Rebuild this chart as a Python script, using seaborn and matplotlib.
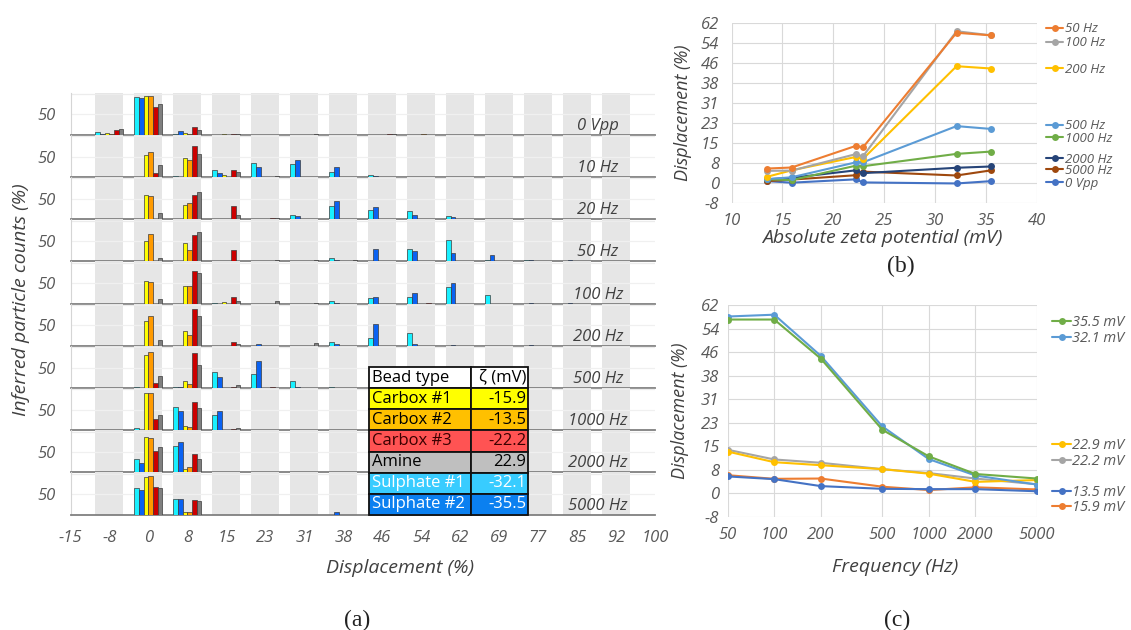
import numpy as np
import pandas as pd
import matplotlib
matplotlib.use("Agg")
import matplotlib.pyplot as plt
import seaborn as sns
from matplotlib.lines import Line2D
from matplotlib.legend import Legend

# ---------------- data ----------------
bin_labels = ['-15', '-8', '0', '8', '15', '23', '31', '38', '46', '54', '62', '69', '77', '85', '92', '100']
inner_bins = bin_labels[1:-1]
beads = ['Sulphate #1', 'Sulphate #2', 'Carbox #1', 'Carbox #2', 'Carbox #3', 'Amine']
bead_colors = ['#19F0FF', '#0A62F2', '#FFFF00', '#FF9A00', '#CC0000', '#7F7F7F']
row_labels = ['0 Vpp', '10 Hz', '20 Hz', '50 Hz', '100 Hz', '200 Hz', '500 Hz', '1000 Hz', '2000 Hz', '5000 Hz']

# counts per row: one list per bead (order as `beads`), over bins -8 .. 92
counts_0vpp = [
    [6.5, 92.6, 1.5, 0, 0, 0, 0, 0, 0, 0, 0, 0, 0, 0],
    [2, 91, 8, 0, 0, 0, 0, 0, 0, 0, 0, 0, 0, 0],
    [3, 94, 4, 0.5, 0, 0, 0, 0, 0, 0, 0, 0, 0, 0],
    [1.5, 94, 2.5, 0, 0, 0, 0, 0, 0.5, 0, 0, 0, 0, 0],
    [12, 68, 18, 0.5, 0, 0, 0, 0.5, 0, 0, 0, 0, 0, 0],
    [15, 74.6, 12, 0.5, 0, 0.5, 0, 0.5, 0, 0, 0, 0, 0, 0],
]
counts_10hz = [
    [0, 0, 2, 17, 34, 32, 12, 5.6, 0.5, 0, 0, 0, 0, 0],
    [0, 0, 0, 10, 25, 41, 24, 1, 0, 0, 0, 0, 0, 0],
    [0, 53, 46, 5, 0.5, 0, 0, 0, 0, 0, 0, 0, 0, 0],
    [0, 60, 41, 0, 0, 0, 0, 0, 0, 0, 0, 0, 0, 0],
    [0, 10.5, 76, 17, 0, 0.5, 0, 0, 0, 0.5, 0, 0, 0, 0],
    [0, 30, 56, 11, 2, 0.5, 0, 0.5, 0.5, 0, 0, 0, 0, 0],
]
counts_20hz = [
    [0, 0, 0, 1, 1, 11, 31, 23, 21, 8, 0, 0, 0, 0],
    [0, 0, 1, 0, 0, 8, 44, 29, 10, 5, 0, 0, 0, 0],
    [0, 60, 34, 1, 0, 0, 0, 0, 0, 0, 0, 0, 0, 0],
    [0, 57, 40, 0, 0, 0, 0, 0, 0, 0, 0, 0, 0, 0],
    [0, 0, 59, 33, 1.5, 1, 1, 0, 0, 0, 0, 0, 0, 0],
    [0, 16, 67, 9, 2, 0, 0, 0, 0.5, 0.5, 0, 0, 0, 0],
]
counts_50hz = [
    [0, 0, 0, 0, 0, 0, 8, 1, 30, 52, 4, 2, 0, 0],
    [0, 0, 0, 0, 0, 0, 2, 29, 25, 21, 15, 4, 2, 0],
    [0, 49, 45, 0, 0, 1, 0, 0, 0, 0, 0, 0, 0, 0],
    [0, 67, 28, 0, 0, 0, 0, 0, 0, 0, 0, 0, 0, 0],
    [0, 0, 65, 27, 0, 0, 0, 0, 1.5, 0, 0, 0, 0, 0],
    [0, 8, 73, 0, 3, 2, 2, 0, 0, 0.5, 0, 0, 0, 0],
]
counts_100hz = [
    [0, 0, 0, 1, 0, 0, 5, 13, 17, 41, 22, 0, 0, 0],
    [0, 0, 0, 0, 0, 0, 1, 17, 26, 50, 0, 2, 1, 0],
    [0, 55, 42, 3, 0, 0, 0, 0, 0, 0, 0, 0, 0, 0],
    [0, 53, 44, 0, 0, 0, 0, 0, 0, 0, 0, 0, 0, 0],
    [0, 0, 79, 15, 0, 0, 0, 0, 2, 0, 0, 0, 0, 0],
    [0, 10, 75, 6, 5, 1, 0, 0, 0, 0, 0, 0, 0, 0],
]
counts_200hz = [
    [0, 0, 0, 0, 0, 0, 10, 19, 31, 0, 0, 0, 0, 0],
    [0, 0, 0, 0, 3, 0, 5, 52, 4, 2, 0, 1, 0, 0],
    [0, 61, 35, 0, 0, 0, 0, 0, 0, 0, 0, 0, 0, 0],
    [0, 73, 27, 0, 0, 0, 0, 0, 0, 0, 0, 0, 0, 0],
    [0, 0, 89, 8, 0, 0, 0, 0, 0, 0, 0, 0, 0, 0],
    [0, 15, 74, 4, 0, 6, 0, 0, 0, 0, 0, 0, 0, 0],
]
counts_500hz = [
    [0, 1, 2, 40, 35, 18, 3, 0, 0, 0, 0, 0, 0, 0],
    [0, 0, 2, 27, 65, 3, 0, 0, 0, 0, 0, 0, 0, 0],
    [0, 80, 16, 0, 0, 0, 0, 0, 0, 0, 0, 0, 0, 0],
    [0, 88, 10, 0, 0, 0, 0, 0, 0, 0, 0, 0, 0, 0],
    [0, 11, 85, 2, 1, 0, 0, 0, 0, 0, 0, 0, 0, 0],
    [0, 30, 56, 6, 0, 0, 0, 0, 0, 0, 0, 0, 0, 0],
]
counts_1000hz = [
    [0, 5, 56, 36, 0, 0, 0, 0, 0, 0, 0, 0, 0, 0],
    [0, 0, 48, 48, 1, 0, 0, 0, 0, 0, 0, 0, 0, 0],
    [0, 90, 9, 0, 0, 0, 0, 0, 0, 0, 0, 0, 0, 0],
    [0, 91, 6.5, 0, 0, 0, 0, 0, 0, 0, 0, 0, 0, 0],
    [0, 27, 69, 2, 0, 0, 0, 0, 0, 0, 0, 0, 0, 0],
    [0, 36, 53, 5, 0, 0, 0, 0, 0, 0, 0, 0, 0, 0],
]
counts_2000hz = [
    [0, 33, 65, 0, 0, 0, 0, 0, 0, 0, 0, 0, 0, 0],
    [0, 22, 75, 1, 0, 0, 0, 0, 0, 0, 0, 0, 0, 0],
    [0, 86, 8, 0, 0, 0, 0, 0, 0, 0, 0, 0, 0, 0],
    [0, 85, 13, 0, 0, 0, 0, 0, 0, 0, 0, 0, 0, 0],
    [0, 53, 44, 0, 0, 0, 0, 0, 0, 0, 0, 0, 0, 0],
    [0, 62, 33, 0, 0, 0, 0, 0, 0, 0, 0, 0, 0, 0],
]
counts_5000hz = [
    [0, 65, 38, 0, 0, 0, 0, 0, 0, 0, 0, 0, 0, 0],
    [0, 61, 38, 0, 0, 0, 5, 0, 0, 0, 0, 0, 0, 0],
    [0, 92, 7, 0, 0, 0, 0, 0, 0, 0, 0, 0, 0, 0],
    [0, 94, 7, 0, 0, 0, 0, 0, 0, 0, 0, 0, 0, 0],
    [0, 68, 35, 0, 0, 0, 0, 0, 0, 0, 0, 0, 0, 0],
    [0, 64, 34, 0, 0, 0, 0, 0, 0, 0, 0, 0, 0, 0],
]
rows_data = [counts_0vpp, counts_10hz, counts_20hz, counts_50hz, counts_100hz,
             counts_200hz, counts_500hz, counts_1000hz, counts_2000hz, counts_5000hz]

# legend table
table_beads = ['Carbox #1', 'Carbox #2', 'Carbox #3', 'Amine', 'Sulphate #1', 'Sulphate #2']
table_zeta = [-15.9, -13.5, -22.2, 22.9, -32.1, -35.5]
table_colors = ['#FFFF00', '#FFC000', '#FF5353', '#BFBFBF', '#38CCFF', '#0B80F0']
table_text_colors = ['#000000', '#000000', '#3a0000', '#000000', '#FFFFFF', '#FFFFFF']

# panel (b): displacement vs |zeta|
abs_zeta = [13.5, 15.9, 22.2, 22.9, 32.1, 35.5]
freq_labels = ['50 Hz', '100 Hz', '200 Hz', '500 Hz', '1000 Hz', '2000 Hz', '5000 Hz', '0 Vpp']
disp_50hz = [5.4, 5.8, 14.2, 13.6, 58.2, 57.2]
disp_100hz = [4.5, 4.6, 11.0, 10.1, 58.8, 57.2]
disp_200hz = [2.2, 4.7, 9.9, 9.1, 45.2, 44.3]
disp_500hz = [1.3, 2.0, 7.8, 7.8, 21.9, 20.8]
disp_1000hz = [1.2, 0.9, 6.5, 6.3, 11.1, 12.0]
disp_2000hz = [1.2, 1.8, 4.7, 3.6, 5.7, 6.2]
disp_5000hz = [0.5, 1.1, 2.8, 4.2, 2.7, 4.7]
disp_0vpp = [0.5, -0.1, 1.2, 0.0, -0.4, 0.5]
freq_colors = ['#ED7D31', '#A5A5A5', '#FFC000', '#5B9BD5', '#70AD47', '#264478', '#9E480E', '#4472C4']

# panel (c): displacement vs frequency
frequencies = [50, 100, 200, 500, 1000, 2000, 5000]
zeta_labels = ['35.5 mV', '32.1 mV', '22.9 mV', '22.2 mV', '13.5 mV', '15.9 mV']
zeta_colors = ['#70AD47', '#5B9BD5', '#FFC000', '#A5A5A5', '#4472C4', '#ED7D31']

# ---------------- style ----------------
sns.set_theme(style="white")
plt.rcParams['font.family'] = ['Open Sans', 'DejaVu Sans']
plt.rcParams['font.style'] = 'italic'

W, H = 1131, 630
fig = plt.figure(figsize=(W / 100, H / 100), dpi=100)


def fx(x):
    return x / W


def fy(y):
    return 1 - y / H


TICK_C = '#595959'
LAB_C = '#404040'

# ---------------- panel (a) ----------------
recs = []
for lab, arr in zip(row_labels, rows_data):
    for b, vals in zip(beads, arr):
        for bl, v in zip(inner_bins, vals):
            if v > 0:
                recs.append((lab, bl, b, v))
df_a = pd.DataFrame(recs, columns=['row', 'bin', 'bead', 'value'])
pal = dict(zip(beads, bead_colors))

a_left, a_right = 70.5, 655
a_top, a_bot = 92.5, 514.5
row_h = (a_bot - a_top) / len(row_labels)

for i, lab in enumerate(row_labels):
    ax = fig.add_axes([fx(a_left), fy(a_top + (i + 1) * row_h), fx(a_right - a_left), row_h / H])
    sub = df_a[df_a['row'] == lab]
    sns.barplot(data=sub, x='bin', y='value', hue='bead', order=bin_labels, hue_order=beads,
                palette=pal, width=0.72, gap=0, saturation=1, errorbar=None, legend=False,
                edgecolor='#3c3c3c', linewidth=0.5, ax=ax, zorder=3)
    for k in range(1, len(bin_labels) - 1):
        ax.axvspan(k - 0.36, k + 0.36, color='#e6e6e6', lw=0, zorder=0)
    ax.set_xlim(0, len(bin_labels) - 1)
    ax.set_ylim(0, 103.5)
    ax.set_yticks([50])
    ax.set_yticklabels(['50'])
    ax.axhline(50, color='#f0f0f0', lw=0.9, zorder=1)
    ax.axhline(100, color='#ececec', lw=0.9, zorder=1)
    ax.set_xticks(range(len(bin_labels)))
    ax.set_xticklabels(bin_labels)
    ax.tick_params(axis='both', length=0, labelsize=12, labelcolor=TICK_C)
    ax.tick_params(axis='y', pad=11)
    ax.tick_params(axis='x', pad=11)
    if i < len(row_labels) - 1:
        ax.tick_params(labelbottom=False)
    ax.set_xlabel('')
    ax.set_ylabel('')
    for s in ['top', 'right']:
        ax.spines[s].set_visible(False)
    ax.spines['left'].set_color('#d5d5d5')
    ax.spines['left'].set_linewidth(0.8)
    ax.spines['bottom'].set_color('#808080')
    ax.spines['bottom'].set_linewidth(1.3)
    ax.patch.set_alpha(0)
    ax.text(13.54, 22, lab, ha='center', va='center', fontsize=12, color=LAB_C, zorder=5)

fig.text(fx(21), fy(300), 'Inferred particle counts (%)', rotation=90, ha='center', va='center',
         fontsize=14, color=LAB_C)
fig.text(fx(400), fy(568), 'Displacement (%)', ha='center', va='center', fontsize=14, color=LAB_C)
fig.text(fx(357), fy(620), '(a)', ha='center', va='center', fontsize=17, style='normal',
         family='Liberation Serif', color='#222222')

# legend table
tax = fig.add_axes([fx(369), fy(515), fx(528 - 369), (515 - 367) / H], zorder=10)
tax.axis('off')
cell_text = [['Bead type', 'ζ (mV)']] + [[b, f'{z:.1f}'] for b, z in zip(table_beads, table_zeta)]
cell_cols = [['white', 'white']] + [[c, c] for c in table_colors]
tbl = tax.table(cellText=cell_text, cellColours=cell_cols, colWidths=[0.64, 0.36],
                bbox=[0, 0, 1, 1])
tbl.auto_set_font_size(False)
for (r, c), cell in tbl.get_celld().items():
    cell.set_edgecolor('#111111')
    cell.set_linewidth(1.3)
    cell.PAD = 0.03
    t = cell.get_text()
    t.set_fontsize(12)
    t.set_fontstyle('normal')
    t.set_color('#000000' if r == 0 else table_text_colors[r - 1])
    t.set_ha('left' if c == 0 else 'right')
    cell._loc = 'left' if c == 0 else 'right'


def add_entry(ax, label, color, yy, x0, fs, hl):
    h = Line2D([], [], color=color, marker='o', markersize=5, markeredgewidth=0, lw=1.5)
    lg = Legend(ax, [h], [label], loc='center left', bbox_to_anchor=(x0, yy), frameon=False,
                handlelength=hl, handletextpad=0.12, borderpad=0, borderaxespad=0,
                fontsize=fs, labelcolor=TICK_C)
    ax.add_artist(lg)


# ---------------- panel (b) ----------------
b_series = [disp_50hz, disp_100hz, disp_200hz, disp_500hz, disp_1000hz, disp_2000hz, disp_5000hz, disp_0vpp]
df_b = pd.DataFrame([(f, z, v) for f, ser in zip(freq_labels, b_series) for z, v in zip(abs_zeta, ser)],
                    columns=['freq', 'zeta', 'disp'])
axb = fig.add_axes([fx(731.5), fy(203), fx(1037 - 731.5), (203 - 23) / H])
sns.lineplot(data=df_b, x='zeta', y='disp', hue='freq', hue_order=freq_labels[::-1],
             palette=dict(zip(freq_labels, freq_colors)), marker='o', markersize=5,
             markeredgewidth=0, linewidth=1.5, legend=False, ax=axb)
yt = np.linspace(-8, 62, 10)
ylabs = ['-8', '0', '8', '15', '23', '31', '38', '46', '54', '62']
axb.set_xlim(10, 40)
axb.set_ylim(-8, 62)
axb.set_xticks([10, 15, 20, 25, 30, 35, 40])
axb.set_yticks(yt)
axb.set_yticklabels(ylabs)
axb.grid(True, color='#d9d9d9', lw=0.8)
axb.set_axisbelow(True)
for s in axb.spines.values():
    s.set_visible(False)
axb.tick_params(axis='both', length=0, labelsize=12, labelcolor=TICK_C)
axb.tick_params(axis='y', pad=9)
axb.tick_params(axis='x', pad=7)
axb.set_xlabel('')
axb.set_ylabel('')
b_leg_y = [0.967, 0.889, 0.744, 0.428, 0.361, 0.244, 0.183, 0.111]
for lab, col, yy in zip(freq_labels, freq_colors, b_leg_y):
    add_entry(axb, lab, col, yy, 1.03, 9.5, 1.3)
fig.text(fx(683), fy(113), 'Displacement (%)', rotation=90, ha='center', va='center',
         fontsize=13, color=LAB_C)
fig.text(fx(882), fy(238), 'Absolute zeta potential (mV)', ha='center', va='center',
         fontsize=14, color=LAB_C)
fig.text(fx(901), fy(266), '(b)', ha='center', va='center', fontsize=17, style='normal',
         family='Liberation Serif', color='#222222')

# ---------------- panel (c) ----------------
zeta_for_label = {'35.5 mV': 35.5, '32.1 mV': 32.1, '22.9 mV': 22.9, '22.2 mV': 22.2,
                  '13.5 mV': 13.5, '15.9 mV': 15.9}
recs_c = []
for zl in zeta_labels:
    zi = abs_zeta.index(zeta_for_label[zl])
    for f, ser in zip(frequencies, b_series[:7]):
        recs_c.append((zl, f, ser[zi]))
df_c = pd.DataFrame(recs_c, columns=['zeta', 'freq', 'disp'])
axc = fig.add_axes([fx(727.7), fy(517), fx(1037 - 727.7), (517 - 305) / H])
sns.lineplot(data=df_c, x='freq', y='disp', hue='zeta', hue_order=zeta_labels[::-1],
             palette=dict(zip(zeta_labels, zeta_colors)), marker='o', markersize=5,
             markeredgewidth=0, linewidth=1.5, legend=False, ax=axc)
axc.set_xscale('log')
axc.set_xlim(50, 5000)
axc.set_ylim(-8, 62)
axc.set_xticks(frequencies)
axc.set_xticklabels([str(f) for f in frequencies])
axc.xaxis.set_minor_locator(matplotlib.ticker.NullLocator())
axc.set_yticks(yt)
axc.set_yticklabels(ylabs)
axc.grid(True, color='#d9d9d9', lw=0.8)
axc.set_axisbelow(True)
for s in axc.spines.values():
    s.set_visible(False)
axc.tick_params(axis='both', length=0, labelsize=12, labelcolor=TICK_C)
axc.tick_params(axis='y', pad=6)
axc.tick_params(axis='x', pad=7)
axc.set_xlabel('')
axc.set_ylabel('')
c_leg_y = [0.916, 0.843, 0.336, 0.263, 0.115, 0.046]
for lab, col, yy in zip(zeta_labels, zeta_colors, c_leg_y):
    add_entry(axc, lab, col, yy, 1.05, 10.5, 1.25)
fig.text(fx(680), fy(411), 'Displacement (%)', rotation=90, ha='center', va='center',
         fontsize=13, color=LAB_C)
fig.text(fx(895), fy(567), 'Frequency (Hz)', ha='center', va='center', fontsize=14, color=LAB_C)
fig.text(fx(897), fy(620), '(c)', ha='center', va='center', fontsize=17, style='normal',
         family='Liberation Serif', color='#222222')

fig.savefig('out.png', dpi=100)
